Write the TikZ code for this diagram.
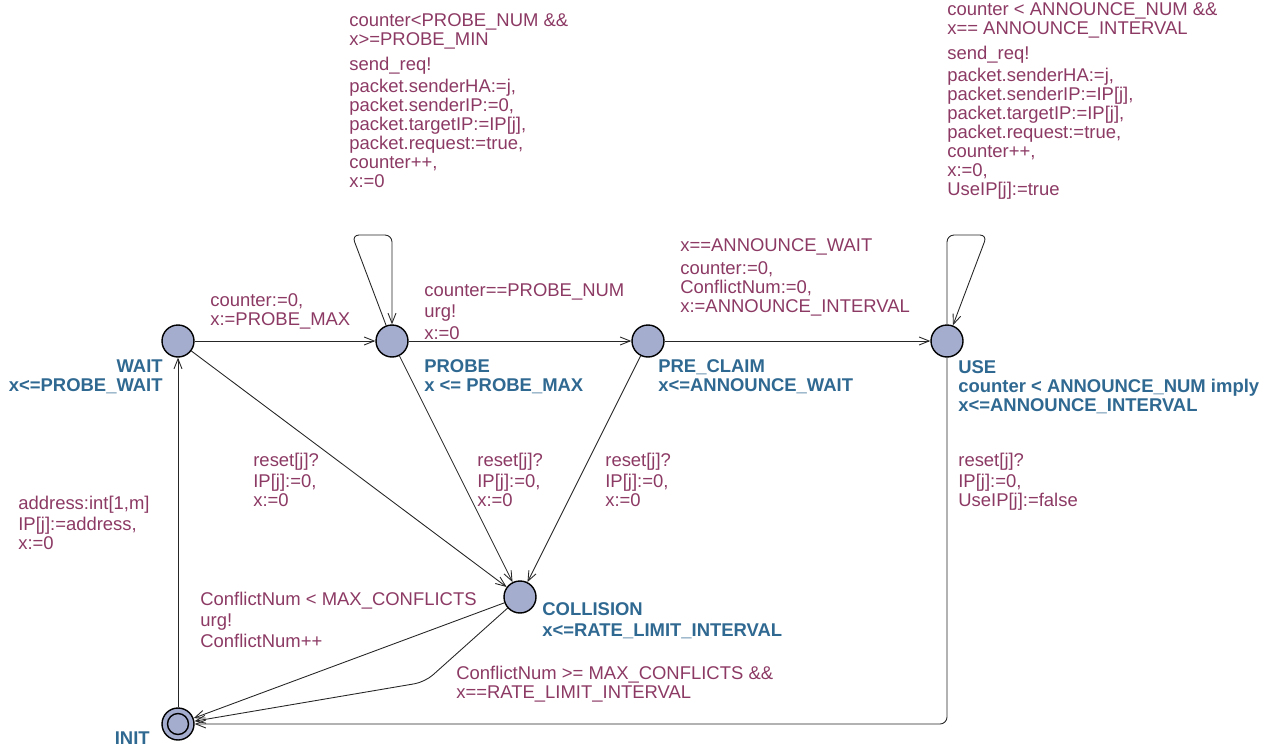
\documentclass[tikz,border=0pt]{standalone}
\usepackage{fontspec}
\setmainfont{Liberation Sans}
\usetikzlibrary{arrows.meta}

\definecolor{locfill}{RGB}{165,173,206}
\definecolor{labelcol}{RGB}{140,58,100}
\definecolor{namecol}{RGB}{47,104,145}

\begin{document}
\begin{tikzpicture}[x=0.02cm,y=-0.02cm,
    >={Straight Barb[length=2mm,width=1.6mm]},
    font=\fontsize{10.5}{10.8}\selectfont,
    loc/.style={circle,draw,line width=0.8pt,fill=locfill,
        minimum size=0.64cm,inner sep=0pt},
    init loc/.style={loc,path picture={
        \draw[line width=0.8pt] (path picture bounding box.center) circle (0.21cm);}},
    name label/.style={font=\fontsize{10.5}{10.8}\selectfont\bfseries,
        text=namecol,inner sep=0pt,align=left,anchor=base west},
    edge label/.style={text=labelcol,inner sep=0pt,align=left,anchor=base west},
    trans/.style={->,draw=black!85,line width=0.5pt}]

  \useasboundingbox (0,0) rectangle (1281,747);

  % locations
  \node[loc] (WAIT) at (178,341) {};
  \node[loc] (PROBE) at (392,341) {};
  \node[loc] (PRECLAIM) at (648,341) {};
  \node[loc] (USE) at (947,341) {};
  \node[loc] (COLLISION) at (520,597) {};
  \node[init loc] (INIT) at (178,724) {};

  % names and invariants (anchored at the last line)
  \node[name label,anchor=base east,align=right] (WAITname) at (163,391)
    {WAIT\\x<=PROBE\_WAIT};
  \node[name label] (PROBEname) at (424,391) {PROBE\\x <= PROBE\_MAX};
  \node[name label] (PRECLAIMname) at (658,391) {PRE\_CLAIM\\x<=ANNOUNCE\_WAIT};
  \node[name label] (USEname) at (958,411)
    {USE\\counter < ANNOUNCE\_NUM imply\\x<=ANNOUNCE\_INTERVAL};
  \node[name label] (COLLISIONname) at (542,636)
    {COLLISION\\[1pt]x<=RATE\_LIMIT\_INTERVAL};
  \node[name label,anchor=base east] (INITname) at (150,744) {INIT};

  % corners
  \coordinate (probe loop a) at (352,235);
  \coordinate (probe loop b) at (392,235);
  \coordinate (use loop a) at (947,235);
  \coordinate (use loop b) at (987,235);
  \coordinate (use corner) at (947,724);
  \coordinate (collision corner) at (425,682);

  % transitions
  \path[trans]
  (WAIT) edge (PROBE)
  (PROBE) edge (PRECLAIM)
  (PRECLAIM) edge (USE)
  (WAIT) edge (COLLISION)
  (PROBE) edge (COLLISION)
  (PRECLAIM) edge (COLLISION)
  (COLLISION) edge (INIT)
  (INIT) edge (WAIT)
  ;
  \draw[trans,rounded corners=4pt] (PROBE) -- (probe loop a) -- (probe loop b) -- (PROBE);
  \draw[trans,rounded corners=4pt] (USE) -- (use loop a) -- (use loop b) -- (USE);
  \draw[trans,rounded corners=4pt] (USE) -- (use corner) -- (INIT);
  \draw[trans,rounded corners=6pt] (COLLISION) -- (collision corner) -- (INIT);

  % transition labels (anchored at the last line)
  \node[edge label] (l1) at (210,325) {counter:=0,\\x:=PROBE\_MAX};
  \node[edge label] (l2) at (349,187)
    {counter<PROBE\_NUM \&\&\\x>=PROBE\_MIN\\[3.4pt]send\_req!\\[1.7pt]packet.senderHA:=j,\\packet.senderIP:=0,\\packet.targetIP:=IP[j],\\packet.request:=true,\\counter++,\\x:=0};
  \node[edge label] (l3) at (424,339) {counter==PROBE\_NUM\\[1.2pt]urg!\\[1.2pt]x:=0};
  \node[edge label] (l4) at (680,312)
    {x==ANNOUNCE\_WAIT\\[2pt]counter:=0,\\ConflictNum:=0,\\x:=ANNOUNCE\_INTERVAL};
  \node[edge label] (l5) at (947,195)
    {counter < ANNOUNCE\_NUM \&\&\\x== ANNOUNCE\_INTERVAL\\[3pt]send\_req!\\[1.7pt]packet.senderHA:=j,\\packet.senderIP:=IP[j],\\packet.targetIP:=IP[j],\\packet.request:=true,\\counter++,\\x:=0,\\UseIP[j]:=true};
  \node[edge label] (l6) at (253,506) {reset[j]?\\[1.1pt]IP[j]:=0,\\x:=0};
  \node[edge label] (l7) at (477,506) {reset[j]?\\[1.1pt]IP[j]:=0,\\x:=0};
  \node[edge label] (l8) at (605,506) {reset[j]?\\[1.1pt]IP[j]:=0,\\x:=0};
  \node[edge label] (l9) at (958,506) {reset[j]?\\[1.1pt]IP[j]:=0,\\UseIP[j]:=false};
  \node[edge label] (l10) at (18,549) {address:int[1,m]\\[1.1pt]IP[j]:=address,\\x:=0};
  \node[edge label] (l11) at (200,647)
    {ConflictNum < MAX\_CONFLICTS\\[1.1pt]urg!\\[1.1pt]ConflictNum++};
  \node[edge label] (l12) at (456,698)
    {ConflictNum >= MAX\_CONFLICTS \&\&\\x==RATE\_LIMIT\_INTERVAL};
\end{tikzpicture}
\end{document}
